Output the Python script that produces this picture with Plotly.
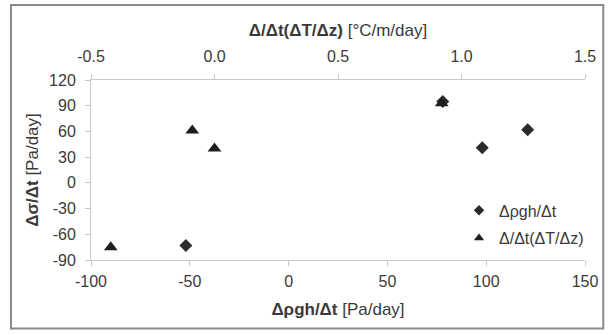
import plotly.graph_objects as go

# Data
rho_x = [-52, 78, 98, 121]          # Δρgh/Δt [Pa/day] (bottom axis)
rho_y = [-73, 95, 41, 62]           # Δσ/Δt [Pa/day]
dT_x = [-0.42, -0.09, 0.0, 0.92]    # Δ/Δt(ΔT/Δz) [°C/m/day] (top axis)
dT_y = [-75, 61, 40, 93]

x_ticks = [-100, -50, 0, 50, 100, 150]
x_labels = ["-100", "-50", "0", "50", "100", "150"]
x2_ticks = [-0.5, 0.0, 0.5, 1.0, 1.5]
x2_labels = ["-0.5", "0.0", "0.5", "1.0", "1.5"]
y_ticks = [-90, -60, -30, 0, 30, 60, 90, 120]
y_labels = ["-90", "-60", "-30", "0", "30", "60", "90", "120"]

FONT = "Liberation Sans, Arial, sans-serif"
TXT = "#3a3a3a"
AX = "#c8c8c8"
TICK_SIZE = 16
TITLE_SIZE = 17
LEG_SIZE = 16

fig = go.Figure()
fig.add_trace(go.Scatter(
    x=rho_x, y=rho_y, mode="markers", name="Δρgh/Δt", showlegend=False,
    marker=dict(symbol="diamond", size=10, color="#2b2b2b"),
    xaxis="x", yaxis="y"))
fig.add_trace(go.Scatter(
    x=dT_x, y=dT_y, mode="markers", name="Δ/Δt(ΔT/Δz)", showlegend=False,
    marker=dict(symbol="triangle-up", size=12, color="#1e1e1e"),
    xaxis="x2", yaxis="y"))
# legend entries (small symbols, as in the original)
fig.add_trace(go.Scatter(
    x=[None], y=[None], mode="markers", name="Δρgh/Δt", legendgroup="a",
    marker=dict(symbol="diamond", size=8, color="#2b2b2b"), xaxis="x", yaxis="y"))
fig.add_trace(go.Scatter(
    x=[None], y=[None], mode="markers", name="Δ/Δt(ΔT/Δz)", legendgroup="b",
    marker=dict(symbol="triangle-up", size=9, color="#1e1e1e"), xaxis="x", yaxis="y"))

common = dict(showgrid=False, zeroline=False, showline=True, linecolor=AX,
              linewidth=1, ticks="outside", ticklen=5, tickcolor=AX,
              tickfont=dict(family=FONT, size=TICK_SIZE, color=TXT))

fig.update_layout(
    width=610, height=335,
    margin=dict(l=91, r=25, t=80, b=75, autoexpand=False),
    paper_bgcolor="white", plot_bgcolor="white",
    font=dict(family=FONT, size=TICK_SIZE, color=TXT),
    xaxis=dict(range=[-100, 150], tickvals=x_ticks, ticktext=x_labels,
               ticklabelstandoff=2, **common,
               title=dict(text="<b>Δρgh/Δt</b> [Pa/day]", standoff=13,
                          font=dict(family=FONT, size=TITLE_SIZE, color=TXT))),
    xaxis2=dict(range=[-0.5, 1.5], tickvals=x2_ticks, ticktext=x2_labels,
                overlaying="x", side="top", anchor="y", ticklabelstandoff=6,
                **common,
                title=dict(text="<b>Δ/Δt(ΔT/Δz)</b> [°C/m/day]", standoff=6,
                           font=dict(family=FONT, size=TITLE_SIZE, color=TXT))),
    yaxis=dict(range=[-90, 120], tickvals=y_ticks, ticktext=y_labels,
               ticklabelstandoff=6, **common,
               title=dict(text="<b>Δσ/Δt</b> [Pa/day]", standoff=6,
                          font=dict(family=FONT, size=TITLE_SIZE, color=TXT))),
    showlegend=True,
    legend=dict(x=0.745, y=0.37, xanchor="left", yanchor="top",
                bgcolor="rgba(0,0,0,0)", font=dict(family=FONT, size=LEG_SIZE, color=TXT),
                itemwidth=30, tracegroupgap=4),
    shapes=[dict(type="rect", xref="paper", yref="paper",
                 x0=-0.162, x1=1.037, y0=-0.38, y1=1.417,
                 line=dict(color="#8a8a8a", width=2), layer="below")],
)

fig.write_html("out.html", config={"displayModeBar": False},
               post_script="document.body.style.margin='0';")
